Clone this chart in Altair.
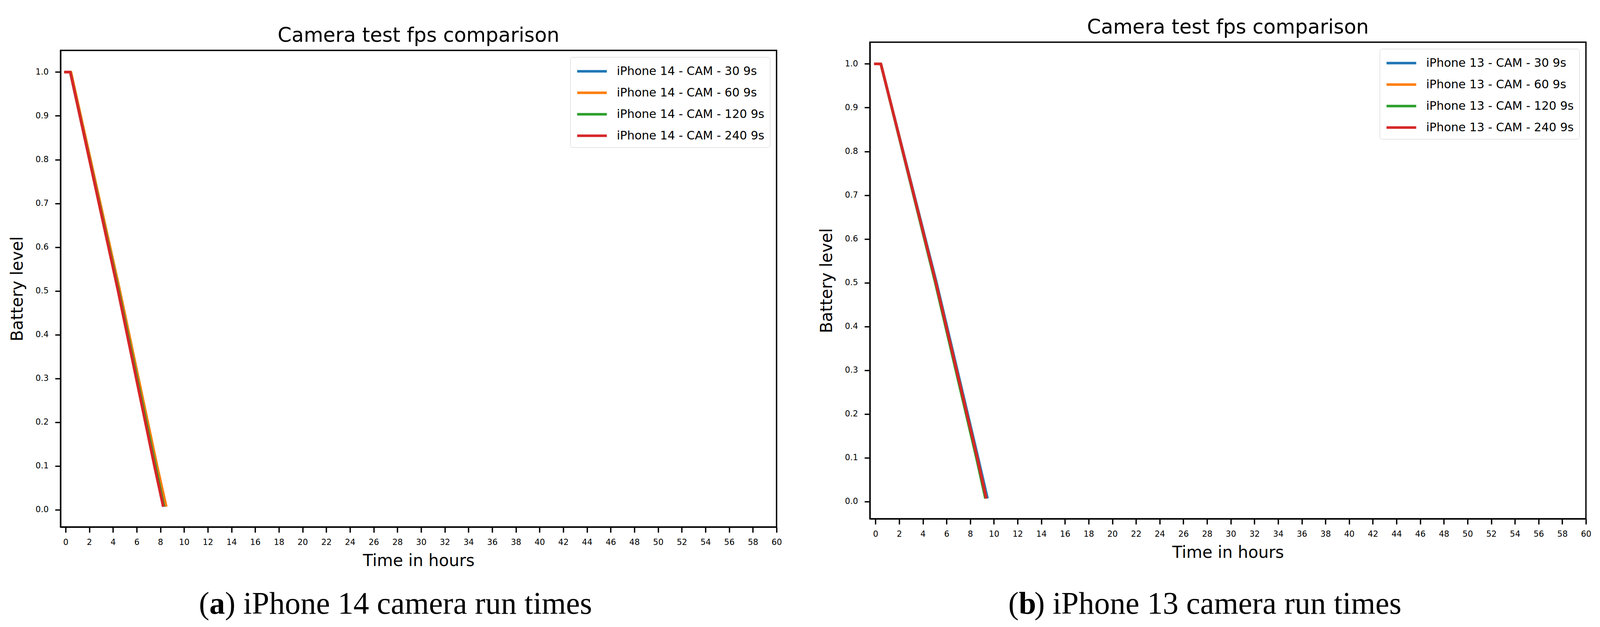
import altair as alt
import pandas as pd

# ---------------- data ----------------
BATTERY = [1.0, 1.0, 0.5, 0.1, 0.01]          # battery level at each read-off point

NAMES_14 = ["iPhone 14 - CAM - 30 9s", "iPhone 14 - CAM - 60 9s",
            "iPhone 14 - CAM - 120 9s", "iPhone 14 - CAM - 240 9s"]
NAMES_13 = ["iPhone 13 - CAM - 30 9s", "iPhone 13 - CAM - 60 9s",
            "iPhone 13 - CAM - 120 9s", "iPhone 13 - CAM - 240 9s"]

# hours at which each battery level is reached
I14_30 = [0, 0.40, 4.48, 7.58, 8.28]
I14_60 = [0, 0.45, 4.58, 7.72, 8.47]
I14_120 = [0, 0.40, 4.48, 7.58, 8.28]
I14_240 = [0, 0.40, 4.43, 7.50, 8.22]

I13_30 = [0, 0.45, 5.15, 8.66, 9.43]
I13_60 = [0, 0.45, 5.10, 8.59, 9.33]
I13_120 = [0, 0.45, 5.05, 8.52, 9.26]
I13_240 = [0, 0.45, 5.10, 8.59, 9.33]

COLORS = ["#1f77b4", "#ff7f0e", "#2ca02c", "#d62728"]
X_TICKS = list(range(0, 61, 2))
Y_TICKS = [round(i * 0.1, 1) for i in range(11)]

TITLE = "Camera test fps comparison"
CAP_14 = ["(", "a", ") iPhone 14 camera run times"]
CAP_13 = ["(", "b", ") iPhone 13 camera run times"]

W, H = 1833, 1220
FONT = "DejaVu Sans"
SERIF = "Liberation Serif"


def panel(series, names, caption, cap_y):
    xmax = max(max(s) for s in series)
    xmin = -0.05 * xmax
    ymin = min(BATTERY) - 0.05 * (max(BATTERY) - min(BATTERY))
    ymax = max(BATTERY) + 0.05 * (max(BATTERY) - min(BATTERY))

    xaxis = alt.Axis(values=X_TICKS, title="Time in hours", grid=False,
                     labelFont=FONT, labelFontSize=21, labelColor="black",
                     labelPadding=14, labelFlush=False, labelOverlap=False,
                     tickSize=14, tickWidth=3.4, tickColor="black",
                     domainColor="black", domainWidth=3.4,
                     titleFont=FONT, titleFontSize=42, titleFontWeight="normal",
                     titleColor="black", titlePadding=17)
    yaxis = alt.Axis(values=Y_TICKS, format=".1f", title="Battery level", grid=False,
                     labelFont=FONT, labelFontSize=21, labelColor="black",
                     labelPadding=17, labelFlush=False, labelOverlap=False,
                     tickSize=14, tickWidth=3.4, tickColor="black",
                     domainColor="black", domainWidth=3.4,
                     titleFont=FONT, titleFontSize=42, titleFontWeight="normal",
                     titleColor="black", titlePadding=24)
    legend = alt.Legend(title=None, orient="top-right", offset=17, padding=14,
                        strokeColor="#cccccc", cornerRadius=6,
                        fillColor="white", labelFont=FONT, labelFontSize=30,
                        labelColor="black", labelLimit=0,
                        labelExpr="datum.label + '\u00a0\u00a0\u00a0\u00a0\u00a0'",
                        symbolType="M-1,0H3", symbolSize=1444,
                        symbolStrokeWidth=6.5, labelOffset=60, rowPadding=17)

    layers = []
    for name, xs in zip(names, series):
        df = pd.DataFrame({"t": xs, "b": BATTERY, "s": name})
        layers.append(
            alt.Chart(df).mark_line(strokeWidth=7, strokeCap="square",
                                    strokeJoin="round").encode(
                x=alt.X("t:Q", scale=alt.Scale(domain=[xmin, 60], nice=False, zero=False),
                        axis=xaxis),
                y=alt.Y("b:Q", scale=alt.Scale(domain=[ymin, ymax], nice=False, zero=False),
                        axis=yaxis),
                color=alt.Color("s:N", scale=alt.Scale(domain=names, range=COLORS),
                                legend=legend),
            )
        )

    # caption below the panel: "(", bold letter, rest
    cx = 857
    fs = 80
    start = cx - 503
    p1 = start + 27
    p2 = p1 + 40
    cap_df = pd.DataFrame({"a": [caption[0]], "b": [caption[1]], "c": [caption[2]]})
    base = alt.Chart(cap_df)
    layers.append(base.mark_text(font=SERIF, fontSize=fs, align="right", baseline="middle",
                                 color="black").encode(text="a:N", x=alt.value(p1), y=alt.value(cap_y)))
    layers.append(base.mark_text(font=SERIF, fontSize=fs, fontWeight="bold", align="left",
                                 baseline="middle", color="black").encode(
        text="b:N", x=alt.value(p1), y=alt.value(cap_y)))
    layers.append(base.mark_text(font=SERIF, fontSize=fs, align="left", baseline="middle",
                                 color="black").encode(text="c:N", x=alt.value(p2), y=alt.value(cap_y)))

    return alt.layer(*layers).properties(
        width=W, height=H,
        title=alt.TitleParams(TITLE, font=FONT, fontSize=51, fontWeight="normal",
                              color="black", offset=11, anchor="middle"),
    )


def spacer(h):
    return alt.Chart(pd.DataFrame({"v": [0]})).mark_point(opacity=0, size=1).encode(
        x=alt.value(0), y=alt.value(0)
    ).properties(width=1, height=h, view=alt.ViewBackground(stroke="transparent"))


def column(h, p):
    return alt.vconcat(spacer(h), p, spacing=0).resolve_scale(
        color="independent", x="independent", y="independent"
    ).resolve_legend(color="independent")


left = column(22, panel([I14_30, I14_60, I14_120, I14_240], NAMES_14, CAP_14, 1418))
right = column(1, panel([I13_30, I13_60, I13_120, I13_240], NAMES_13, CAP_13, 1439))

chart = alt.hconcat(left, right, spacing=89).resolve_scale(
    color="independent", x="independent", y="independent"
).properties(
    padding={"left": 13, "top": 29, "right": 0, "bottom": 0},
    background="white",
).configure_view(
    stroke="black", strokeWidth=3.4
)

chart.save("out.html", embed_options={"renderer": "svg", "actions": False})
